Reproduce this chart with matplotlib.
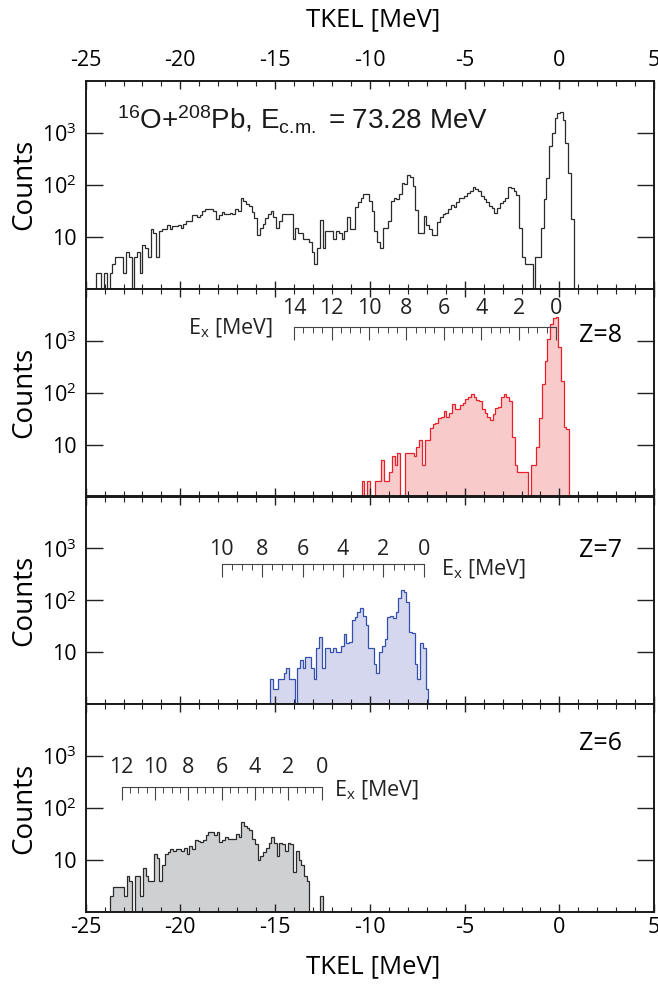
import matplotlib

matplotlib.use('Agg')
import matplotlib.pyplot as plt
import numpy as np
from matplotlib.ticker import MultipleLocator, LogLocator, NullFormatter
from matplotlib.transforms import blended_transform_factory

# Шаг гистограммы по TKEL, МэВ
BIN_WIDTH = 0.144

# Суммарный спектр (верхняя панель)
total_start = -24.45
total_counts = [
    2, 2, 0, 2, 0, 2, 3, 4, 4, 4, 2, 5, 4, 0, 4, 5, 2, 7, 6, 4,
    14, 12, 4, 13, 14, 14, 17, 14, 16, 16,
    17, 15, 18, 20, 20, 26, 26, 24, 26, 31,
    35, 34, 35, 31, 22, 26, 30, 28, 28, 29,
    28, 34, 31, 57, 49, 42, 40, 30, 23, 11,
    15, 18, 23, 27, 31, 24, 15, 20, 27, 27,
    27, 27, 9, 15, 12, 12, 9, 9, 8, 5,
    3, 6, 21, 6, 13, 13, 13, 9, 13, 12,
    9, 13, 24, 14, 14, 38, 46, 55, 66, 66,
    48, 31, 13,
    8, 6, 15, 15, 20, 50, 56, 54, 66, 108,
    104, 152, 140, 94, 33, 12, 12, 25, 17, 14,
    11, 11, 19, 24, 27, 29, 35, 41, 37, 46,
    56, 56, 62, 70, 75, 90, 85, 75, 60, 53,
    46, 40, 36, 29, 36, 45, 48, 56, 90, 88,
    75, 64, 15, 4, 3, 3, 3, 0, 4, 4,
    15, 53, 135, 565, 1000, 1940, 2400, 2500, 1800, 640,
    170, 22,
]

# Z=8
z8_start = -10.43
z8_counts = [
    2, 0, 2, 0, 0, 2, 2, 5, 2, 2, 3, 6, 4, 7, 0, 0, 7, 7, 7, 6, 9, 12, 4, 12, 12,
    21, 25, 26, 32, 34, 44, 34, 41, 60, 48, 48, 57, 64, 75, 84, 96, 81, 72, 70, 49,
    40, 34, 30, 38, 50, 52, 81, 96, 81, 70,
    14, 4, 3, 3, 3, 3, 0, 4, 4, 9, 33, 146, 415, 1100, 2100, 2700, 2800, 760, 170, 22, 20,
]

# Z=7
z7_start = -15.27
z7_counts = [
    3, 2, 2, 3, 3, 4, 5, 3, 3, 0, 5, 7, 5, 8, 8, 5, 3, 12, 20, 5,
    12, 12, 10, 12, 10, 10, 13, 23, 15, 16, 42, 47, 59, 71, 49, 33, 12, 12, 6, 4,
    10, 13, 18, 47, 50, 45, 61, 111, 161, 145, 95, 25, 24, 6, 3, 15, 12, 2,
]

# Z=6
z6_start = -23.7
z6_counts = [
    2, 3, 3, 3, 3, 2, 5, 4, 0, 5, 5, 2, 7, 5, 4, 4, 13, 11, 4, 8, 13, 14,
    16, 15, 16, 16, 15, 17, 13, 19, 16, 24, 23, 22, 24, 31, 34, 35, 31, 34,
    22, 24, 28, 25, 26, 25, 32, 28, 54, 45, 42, 38, 25, 20, 10, 12, 14, 17,
    21, 28, 21, 12, 21, 20, 15, 21, 20, 6, 15, 10, 8, 5, 4,
    0, 0, 0, 0, 2,
]

# Шкалы энергии возбуждения: Ex_max, TKEL при Ex=0, наклон
ex_scales = {
    'Z=8': (14, -0.18, 0.987),
    'Z=7': (10, -7.15, 1.067),
    'Z=6': (12, -12.54, 0.88),
}

plt.rcParams['font.family'] = ['Open Sans', 'DejaVu Sans']
plt.rcParams['axes.unicode_minus'] = False
plt.rcParams['mathtext.fontset'] = 'custom'
plt.rcParams['mathtext.rm'] = 'Open Sans'
plt.rcParams['mathtext.it'] = 'Open Sans:italic'
plt.rcParams['mathtext.sf'] = 'Liberation Sans'

W, H = 658, 985
fig = plt.figure(figsize=(W / 100, H / 100), dpi=100)

left_px, right_px = 85.6, 654.2
top_px, panel_h = 81.0, 207.75
TICK_FS = 15.5


def setup(ax):
    ax.set_xlim(-25, 5)
    ax.set_yscale('log')
    ax.set_ylim(1, 1e4)
    ax.xaxis.set_major_locator(MultipleLocator(5))
    ax.xaxis.set_minor_locator(MultipleLocator(1))
    ax.set_yticks([10, 100, 1000], ['10', r'$10^2$', r'$10^3$'])
    ax.yaxis.set_minor_locator(LogLocator(base=10, subs=np.arange(2, 10)))
    ax.yaxis.set_minor_formatter(NullFormatter())
    ax.tick_params(which='both', direction='in', top=True, right=True,
                   labelbottom=False, labeltop=False, labelsize=TICK_FS, color='#222')
    ax.tick_params(axis='x', which='major', length=6, width=1)
    ax.tick_params(axis='x', which='minor', length=3.5, width=0.8)
    ax.tick_params(axis='y', which='major', length=12, width=1, pad=6.5)
    ax.tick_params(axis='y', which='minor', length=5.5, width=0.8)
    for s in ax.spines.values():
        s.set_linewidth(1.4)
        s.set_color('#1a1a1a')


def draw_hist(ax, start, counts, face, edge):
    counts = np.asarray(counts, dtype=float)
    edges = start + BIN_WIDTH * np.arange(len(counts) + 1)
    vals = np.where(counts > 0, counts, 0.1)
    if face is not None:
        ax.stairs(vals, edges, baseline=0.1, fill=True, color=face, lw=0)
    ax.stairs(vals, edges, baseline=0.1, color=edge, lw=0.9)


def ex_axis(ax, key, y, pad, label_x, label_y, label_ha):
    ex_max, tkel0, slope = ex_scales[key]
    trans = blended_transform_factory(ax.transData, ax.transAxes)
    x_left = tkel0 - slope * ex_max
    sc = ax.inset_axes([x_left, y, tkel0 - x_left, 0.001], transform=trans)
    sc.set_xlim(ex_max, 0)
    sc.patch.set_visible(False)
    for name, s in sc.spines.items():
        s.set_visible(name == 'top')
    sc.spines['top'].set_linewidth(0.8)
    sc.spines['top'].set_color('#444')
    sc.set_yticks([])
    sc.xaxis.set_ticks_position('top')
    sc.xaxis.set_major_locator(MultipleLocator(2))
    sc.xaxis.set_minor_locator(MultipleLocator(0.5))
    sc.tick_params(axis='x', which='both', direction='in', colors='#444',
                   labelsize=TICK_FS, labelcolor='#222', pad=pad)
    sc.tick_params(axis='x', which='major', length=9, width=0.8)
    sc.tick_params(axis='x', which='minor', length=4.5, width=0.7)
    ax.text(label_x, label_y, r'E$_\mathrm{x}$ [MeV]', transform=trans,
            ha=label_ha, va='center', fontsize=TICK_FS, color='#222')


axes = []
for i in range(4):
    y0 = top_px + i * panel_h
    rect = [left_px / W, 1 - (y0 + panel_h) / H, (right_px - left_px) / W, panel_h / H]
    ax = fig.add_axes(rect)
    setup(ax)
    axes.append(ax)

ax0, ax8, ax7, ax6 = axes

# Верхняя панель
draw_hist(ax0, total_start, total_counts, None, '#2a2a2a')
ax0.tick_params(axis='x', which='major', labeltop=True, pad=7)
ax0.text(0.055, 0.766,
         r'$^{\mathsf{16}}$O+$^{\mathsf{208}}$Pb, E$_{\mathsf{c.\!m.}}$ = 73.28 MeV',
         transform=ax0.transAxes, family='Liberation Sans', fontsize=20,
         va='baseline', ha='left', color='#1a1a1a')

# Z=8
draw_hist(ax8, z8_start, z8_counts, '#f8caca', '#e8202a')
ex_axis(ax8, 'Z=8', 0.813, 6.4, -15.12, 0.808, 'right')
ax8.text(0.906, 0.776, 'Z=8', transform=ax8.transAxes, ha='center', va='center', fontsize=18)

# Z=7
draw_hist(ax7, z7_start, z7_counts, '#d4d7ee', '#3450ad')
ex_axis(ax7, 'Z=7', 0.672, 3.5, -6.25, 0.648, 'left')
ax7.text(0.906, 0.74, 'Z=7', transform=ax7.transAxes, ha='center', va='center', fontsize=18)

# Z=6
draw_hist(ax6, z6_start, z6_counts, '#cfd0d2', '#2a2a2a')
ex_axis(ax6, 'Z=6', 0.60, 6.9, -11.87, 0.587, 'left')
ax6.text(0.906, 0.81, 'Z=6', transform=ax6.transAxes, ha='center', va='center', fontsize=18)
ax6.tick_params(axis='x', which='major', labelbottom=True, pad=3.5)

for ax in axes:
    ax.set_ylabel('Counts', fontsize=20)
    ax.yaxis.set_label_coords(-0.084, 0.5)

fig.text(373 / W, 1 - 20 / H, 'TKEL [MeV]', ha='center', va='center', fontsize=18.5)
fig.text(373 / W, 1 - 967 / H, 'TKEL [MeV]', ha='center', va='center', fontsize=18.5)

fig.savefig('out.png', dpi=100)
